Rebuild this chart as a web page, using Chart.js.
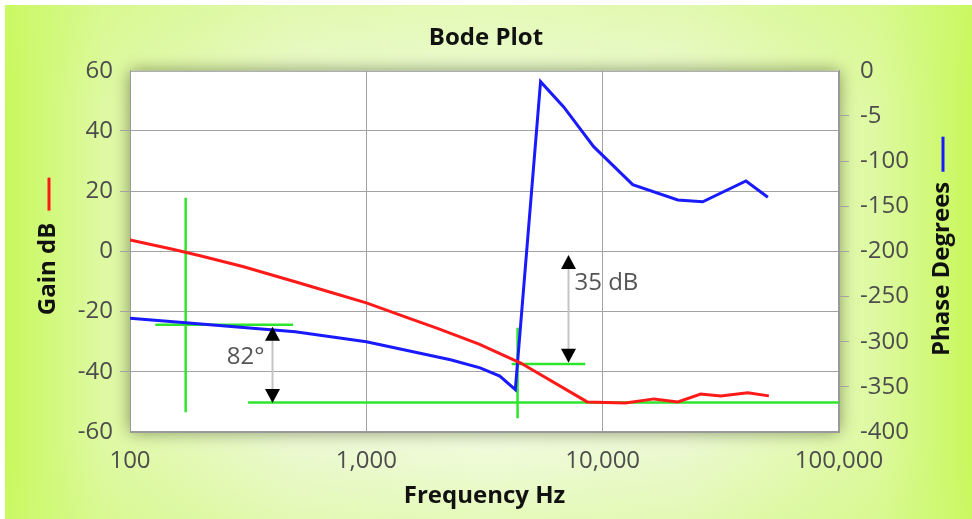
<!DOCTYPE html>
<html>
<head>
<meta charset="utf-8">
<title>Bode Plot</title>
<script src="https://cdn.jsdelivr.net/npm/chart.js@4.4.1/dist/chart.umd.min.js"></script>
<style>
  html, body { margin: 0; padding: 0; background: #fff; }
  #wrap { width: 972px; height: 519px; }
</style>
</head>
<body>
<div id="wrap"><canvas id="bode" width="972" height="519"></canvas></div>
<script>
// gain curve (red, left axis)
const gainFreq = [100, 150, 200, 300, 500, 700, 1000, 1500, 2000, 3000, 4500, 8600, 12500, 16500, 20800, 26000, 31600, 41100, 50500];
const gainDb = [3.8, 0.8, -1.5, -5.0, -10.1, -13.5, -17.1, -22.1, -25.6, -30.8, -37.1, -50.0, -50.4, -49.0, -50.0, -47.4, -48.0, -47.0, -48.0];

// phase curve (blue, right axis)
const phaseFreq = [100, 172, 500, 1000, 2270, 3030, 3670, 4270, 5460, 6840, 9160, 13400, 20800, 26500, 40400, 50000];
const phaseDeg = [-274, -279, -289, -300, -320, -329, -338, -353, -12, -40, -84, -126, -143, -145, -122, -140];

// axis ticks
const freqTicks = [100, 1000, 10000, 100000];
const gainTicks = [-60, -40, -20, 0, 20, 40, 60];
const phaseTicks = [-400, -350, -300, -250, -200, -150, -100, -50, 0];
const phaseTickLabels = ['-400', '-350', '-300', '-250', '-200', '-150', '-100', '-5', '0'];

// green marker lines (gain axis): start/end points
const markerFreqA = [172, 128, 316, 4365, 4120];
const markerFreqB = [172, 490, 100000, 4365, 8440];
const markerGainA = [17.8, -24.4, -50.2, -25.4, -37.4];
const markerGainB = [-53.4, -24.4, -50.2, -55.4, -37.4];

// margin arrows (gain axis)
const arrowFreq = [400, 7120];
const arrowFrom = [-25.0, -1.2];
const arrowTo = [-50.4, -37.0];
const arrowText = ['82°', '35 dB'];
const arrowTextGain = [-35.0, -10.5];
const arrowTextSide = ['left', 'right'];

const FONT = "'Open Sans', 'Noto Sans', sans-serif";
const GRID = '#a3a3a3';
const TICK = '#4d4d4d';

Chart.defaults.font.family = FONT;

const datasets = [
    {
        label: 'Gain dB',
        data: gainFreq.map((f, i) => ({ x: f, y: gainDb[i] })),
        yAxisID: 'y',
        borderColor: '#ff1a1a',
        borderWidth: 3,
        pointRadius: 0,
        tension: 0
    },
    {
        label: 'Phase Degrees',
        data: phaseFreq.map((f, i) => ({ x: f, y: phaseDeg[i] })),
        yAxisID: 'y2',
        borderColor: '#1a1aff',
        borderWidth: 3,
        pointRadius: 0,
        tension: 0
    }
];
markerFreqA.forEach((f, i) => {
    datasets.push({
        label: 'marker' + i,
        data: [{ x: f, y: markerGainA[i] }, { x: markerFreqB[i], y: markerGainB[i] }],
        yAxisID: 'y',
        borderColor: '#2de52d',
        borderWidth: 2.5,
        pointRadius: 0
    });
});

// page background + white plot box with soft shadow
const backdrop = {
    id: 'backdrop',
    beforeDraw(chart) {
        const { ctx, chartArea: a, width, height } = chart;
        ctx.save();
        ctx.fillStyle = '#fff';
        ctx.fillRect(0, 0, width, height);
        const g = ctx.createLinearGradient(5, 0, width, 0);
        g.addColorStop(0, '#c8f85c');
        g.addColorStop(0.1, '#def9a2');
        g.addColorStop(0.3, '#ecf9d3');
        g.addColorStop(0.5, '#f0fbdd');
        g.addColorStop(0.7, '#ecf9d3');
        g.addColorStop(0.9, '#def9a2');
        g.addColorStop(1, '#c8f85c');
        ctx.fillStyle = g;
        ctx.fillRect(5, 5, width - 5, height - 5);
        const v = ctx.createLinearGradient(0, 5, 0, height);
        v.addColorStop(0, 'rgba(205,248,110,0.35)');
        v.addColorStop(0.2, 'rgba(205,248,110,0)');
        v.addColorStop(0.85, 'rgba(205,248,110,0)');
        v.addColorStop(1, 'rgba(205,248,110,0.3)');
        ctx.fillStyle = v;
        ctx.fillRect(5, 5, width - 5, height - 5);
        ctx.shadowColor = 'rgba(60,70,30,0.6)';
        ctx.shadowBlur = 16;
        ctx.fillStyle = '#fff';
        ctx.fillRect(a.left, a.top, a.width, a.height);
        ctx.restore();
    },
    beforeDatasetsDraw(chart) {
        const { ctx, chartArea: a } = chart;
        ctx.save();
        ctx.strokeStyle = '#9a9a9a';
        ctx.lineWidth = 1;
        ctx.strokeRect(a.left + 0.5, a.top + 0.5, a.width - 1, a.height - 1);
        ctx.restore();
    }
};

// arrows, labels and axis titles with their legend dashes
const extras = {
    id: 'extras',
    afterDatasetsDraw(chart) {
        const { ctx, scales } = chart;
        const xs = scales.x, ys = scales.y;
        ctx.save();
        arrowFreq.forEach((f, i) => {
            const px = Math.round(xs.getPixelForValue(f)) + 0.5;
            const y1 = ys.getPixelForValue(arrowFrom[i]);
            const y2 = ys.getPixelForValue(arrowTo[i]);
            ctx.strokeStyle = '#c4c4c4';
            ctx.lineWidth = 2;
            ctx.beginPath();
            ctx.moveTo(px, y1 + 12);
            ctx.lineTo(px, y2 - 12);
            ctx.stroke();
            ctx.fillStyle = '#000';
            ctx.beginPath();
            ctx.moveTo(px, y1);
            ctx.lineTo(px - 7.5, y1 + 14);
            ctx.lineTo(px + 7.5, y1 + 14);
            ctx.closePath();
            ctx.fill();
            ctx.beginPath();
            ctx.moveTo(px, y2);
            ctx.lineTo(px - 7.5, y2 - 14);
            ctx.lineTo(px + 7.5, y2 - 14);
            ctx.closePath();
            ctx.fill();
            ctx.fillStyle = '#555';
            ctx.font = '24px ' + FONT;
            ctx.textBaseline = 'middle';
            const ty = ys.getPixelForValue(arrowTextGain[i]);
            if (arrowTextSide[i] === 'left') {
                ctx.textAlign = 'right';
                ctx.fillText(arrowText[i], px - 8, ty);
            } else {
                ctx.textAlign = 'left';
                ctx.fillText(arrowText[i], px + 6, ty);
            }
        });
        ctx.restore();
    },
    afterDraw(chart) {
        const { ctx, chartArea: a, scales } = chart;
        const cy = (a.top + a.bottom) / 2 - 5;
        const titles = [
            { text: 'Gain dB', x: scales.y.left + 48, color: '#ff1a1a', gap: 12, dash: 33 },
            { text: 'Phase Degrees', x: scales.y2.left + 103, color: '#1a1aff', gap: 10, dash: 35 }
        ];
        ctx.save();
        ctx.font = 'bold 24px ' + FONT;
        titles.forEach(t => {
            const tw = ctx.measureText(t.text).width;
            const total = tw + t.gap + t.dash;
            ctx.save();
            ctx.translate(t.x, cy);
            ctx.rotate(-Math.PI / 2);
            ctx.fillStyle = '#111';
            ctx.textAlign = 'left';
            ctx.textBaseline = 'middle';
            ctx.fillText(t.text, -total / 2, 0);
            ctx.strokeStyle = t.color;
            ctx.lineWidth = 3;
            ctx.beginPath();
            ctx.moveTo(-total / 2 + tw + t.gap, 1);
            ctx.lineTo(total / 2, 1);
            ctx.stroke();
            ctx.restore();
        });
        ctx.restore();
    }
};

new Chart(document.getElementById('bode'), {
    type: 'line',
    data: { datasets },
    plugins: [backdrop, extras],
    options: {
        responsive: false,
        animation: false,
        devicePixelRatio: 1,
        layout: { padding: 0 },
        plugins: {
            legend: { display: false },
            tooltip: { enabled: false },
            title: {
                display: true,
                text: 'Bode Plot',
                color: '#111',
                font: { size: 24, weight: 'bold', family: FONT },
                padding: { top: 24, bottom: 18 }
            }
        },
        scales: {
            x: {
                type: 'logarithmic',
                position: 'bottom',
                min: 100,
                max: 100000,
                afterBuildTicks: s => { s.ticks = freqTicks.map(v => ({ value: v })); },
                afterFit: s => { s.height = 87; },
                ticks: {
                    autoSkip: false,
                    maxRotation: 0,
                    padding: 15,
                    color: TICK,
                    font: { size: 24 },
                    callback: v => Number(v).toLocaleString('en-US')
                },
                grid: { color: GRID, drawTicks: false },
                border: { color: '#9a9a9a' },
                title: {
                    display: true,
                    text: 'Frequency Hz',
                    color: '#111',
                    font: { size: 24, weight: 'bold' },
                    padding: { top: 0, bottom: 8 }
                }
            },
            y: {
                position: 'left',
                min: -60,
                max: 60,
                afterBuildTicks: s => { s.ticks = gainTicks.map(v => ({ value: v })); },
                afterFit: s => { s.width = 130; },
                ticks: {
                    padding: 7,
                    color: TICK,
                    font: { size: 24 },
                    callback: v => String(v)
                },
                grid: {
                    color: c => (c.tick && Math.abs(c.tick.value) === 60) ? 'rgba(0,0,0,0)' : GRID,
                    tickLength: 10
                },
                border: { color: '#9a9a9a' }
            },
            y2: {
                position: 'right',
                min: -400,
                max: 0,
                afterBuildTicks: s => { s.ticks = phaseTicks.map(v => ({ value: v })); },
                afterFit: s => { s.width = 133; },
                ticks: {
                    padding: 11,
                    color: TICK,
                    font: { size: 24 },
                    callback: (v, i) => phaseTickLabels[i]
                },
                grid: {
                    drawOnChartArea: false,
                    color: c => (c.tick && (c.tick.value === 0 || c.tick.value === -400)) ? 'rgba(0,0,0,0)' : GRID,
                    tickLength: 10
                },
                border: { color: '#9a9a9a' }
            }
        }
    }
});
</script>
</body>
</html>
